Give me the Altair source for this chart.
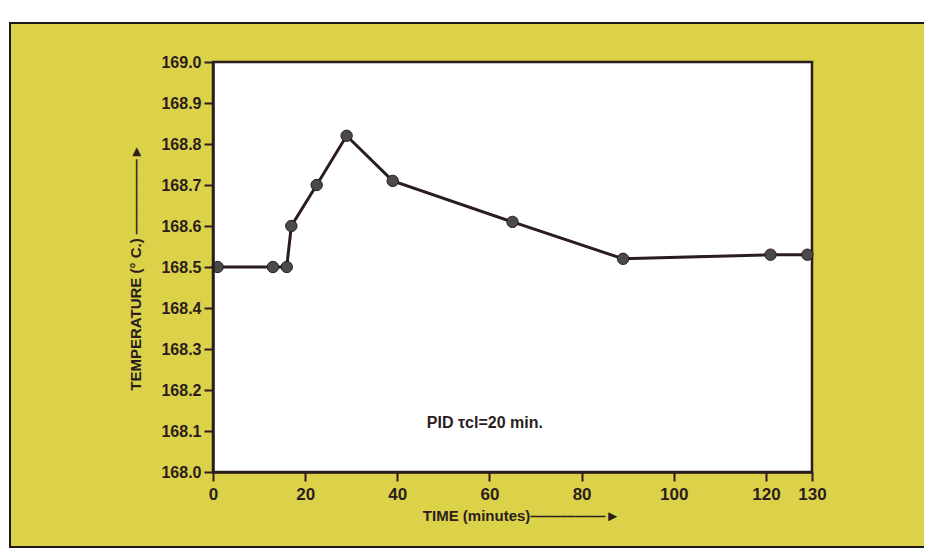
import altair as alt
import pandas as pd

# Data
time_min = [1, 13, 16, 17, 22.5, 29, 39, 65, 89, 121, 129]
temp_c = [168.50, 168.50, 168.50, 168.60, 168.70, 168.82, 168.71, 168.61, 168.52, 168.53, 168.53]
x_ticks = [0, 20, 40, 60, 80, 100, 120, 130]
y_ticks = [168.0, 168.1, 168.2, 168.3, 168.4, 168.5, 168.6, 168.7, 168.8, 168.9, 169.0]
note_text = ["PID \u03c4cl=20 min."]
note_x = [59]
note_y = [168.12]

W, H = 599, 410
INK = "#2b1d1d"
YELLOW = "#dcd24a"
FONT = "Liberation Sans"

df = pd.DataFrame({"t": time_min, "T": temp_c})
notes = pd.DataFrame({"label": note_text, "t": note_x, "T": note_y})

xscale = alt.Scale(domain=[0, 130], nice=False, zero=False)
yscale = alt.Scale(domain=[168.0, 169.0], nice=False, zero=False)

common = dict(grid=False, zindex=2, domainColor=INK, tickColor=INK, labelColor=INK,
              titleColor=INK, labelFont=FONT, titleFont=FONT, tickWidth=2, domainWidth=2.5,
              labelFontWeight="bold", titleFontWeight="bold", titleFontSize=15,
              labelFlush=False, labelOverlap=False)
xaxis = alt.Axis(values=x_ticks, title="TIME (minutes)\u2014\u2014\u2014\u2014\u2014\u25BA",
                 tickSize=9, labelPadding=5, labelFontSize=17,
                 titlePadding=6, titleX=308, **common)
yaxis = alt.Axis(values=y_ticks, format=".1f",
                 title="TEMPERATURE (\u00b0 C.) \u2014\u2014\u2014\u2014\u2014\u25BA",
                 tickSize=9, labelPadding=3, labelFontSize=16,
                 titlePadding=17, **common)

one = alt.Data(values=[{"a": 1}])

panel = alt.Chart(one).mark_rect(fill=YELLOW, stroke="#1a1a1a", strokeWidth=2).encode(
    x=alt.value(-203), x2=alt.value(720), y=alt.value(-39), y2=alt.value(485)
)
plot_bg = alt.Chart(one).mark_rect(fill="white", stroke=INK, strokeWidth=2.5).encode(
    x=alt.value(0), x2=alt.value(W), y=alt.value(0), y2=alt.value(H)
)

base = alt.Chart(df).encode(
    x=alt.X("t:Q", scale=xscale, axis=xaxis),
    y=alt.Y("T:Q", scale=yscale, axis=yaxis),
)
line = base.mark_line(color=INK, strokeWidth=3)
pts = base.mark_point(filled=True, fill="#4a4a4a", stroke=INK, strokeWidth=1, size=130, opacity=1)

note = alt.Chart(notes).mark_text(font=FONT, fontSize=16, fontWeight="bold", color=INK, align="center").encode(
    x=alt.X("t:Q", scale=xscale, axis=xaxis), y=alt.Y("T:Q", scale=yscale, axis=yaxis), text="label:N"
)

chart = alt.layer(panel, plot_bg, line, pts, note).properties(
    width=W, height=H,
    autosize=alt.AutoSizeParams(type="none"),
    padding={"left": 205, "top": 54, "right": 112, "bottom": 76},
    background="white",
).configure_view(stroke=None)

chart.save("out.html", embed_options={"renderer": "svg", "actions": False})
